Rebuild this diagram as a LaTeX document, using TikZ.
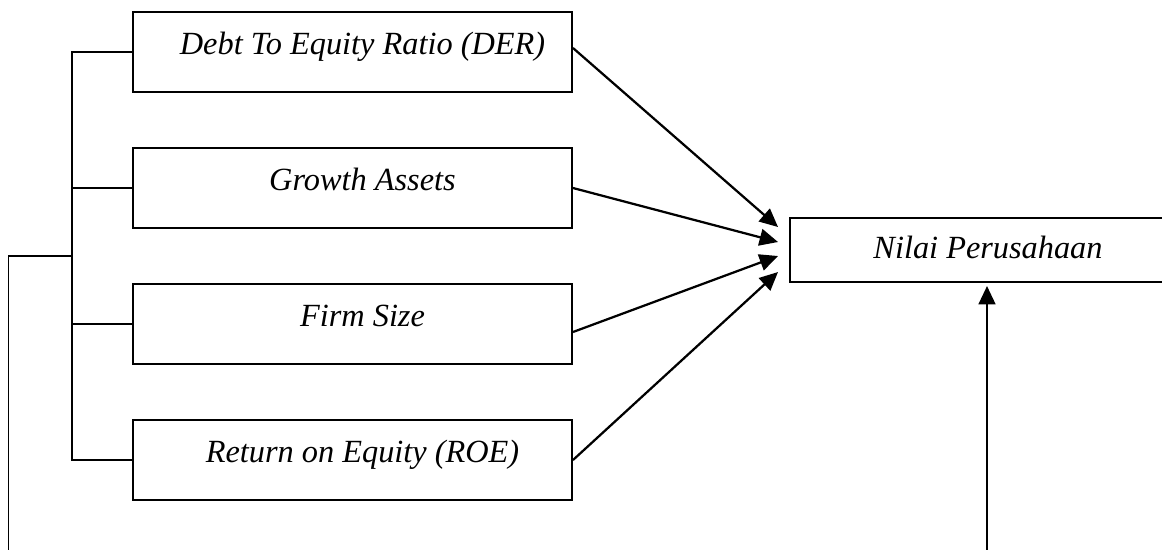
\documentclass[tikz,border=0pt]{standalone}
\usepackage{fontspec}
\setmainfont{Liberation Serif}
\usetikzlibrary{arrows.meta}

\begin{document}
\begin{tikzpicture}[>={Triangle[length=4.6mm,width=4.2mm]},line width=1.1pt]
	\def \rowone{-1.3cm}
	\def \rowtwo{-4.7cm}
	\def \rowthree{-8.1cm}
	\def \rowfour{-11.5cm}
	\def \boxcol{8.8125cm}
	\def \trunk{1.8cm}
	\def \basement{-14cm}
	\tikzstyle{x-node}=[rectangle,draw=black,line width=1.4pt,inner sep=0pt,minimum width=10.975cm,text height=1.05cm,text depth=0.95cm,font=\fontsize{23}{27}\selectfont\itshape,execute at begin node=\hspace*{5mm}]
	\tikzstyle{y-node}=[rectangle,draw=black,line width=1.4pt,inner sep=0pt,minimum width=9.9cm,text height=1cm,text depth=0.6cm,font=\fontsize{23}{27}\selectfont\itshape]
	\tikzstyle{link}=[->,line width=1.6pt]

	\useasboundingbox (0,0) rectangle (29.05,-13.725);

	% independent variables
	\node[x-node] 	(der)		at (\boxcol,\rowone)		{Debt To Equity Ratio (DER)};
	\node[x-node] 	(growth)	at (\boxcol,\rowtwo)		{Growth Assets};
	\node[x-node] 	(size)		at (\boxcol,\rowthree)	 	{Firm Size};
	\node[x-node] 	(roe)		at (\boxcol,\rowfour)	 	{Return on Equity (ROE)};

	% dependent variable
	\node[y-node] 	(nilai)		at (24.7cm,-6.25cm)		{Nilai Perusahaan};

	% bracket on the left
	\coordinate (fork) at (\trunk,-6.4cm);
	\coordinate (feed) at (0.21cm,\basement);
	\coordinate (base) at (24.675cm,\basement);
	\draw (der.west) -- (der.west -| fork) -- (roe.west -| fork) -- (roe.west);
	\draw (growth.west) -- (growth.west -| fork);
	\draw (size.west) -- (size.west -| fork);
	\draw (feed) |- (fork);

	% arrows into the dependent variable
	\draw[link] ([yshift=1mm]der.east)	-- ([xshift=-2.75mm,yshift=5.75mm]nilai.west);
	\draw[link] (growth.east)		-- ([xshift=-2.75mm,yshift=2mm]nilai.west);
	\draw[link] ([yshift=-2mm]size.east)	-- ([xshift=-2.75mm,yshift=-1.5mm]nilai.west);
	\draw[link] (roe.east)			-- ([xshift=-2.75mm,yshift=-5.5mm]nilai.west);
	\draw[link,shorten >=0.75mm] (base) -- (base |- nilai.south);
\end{tikzpicture}
\end{document}
